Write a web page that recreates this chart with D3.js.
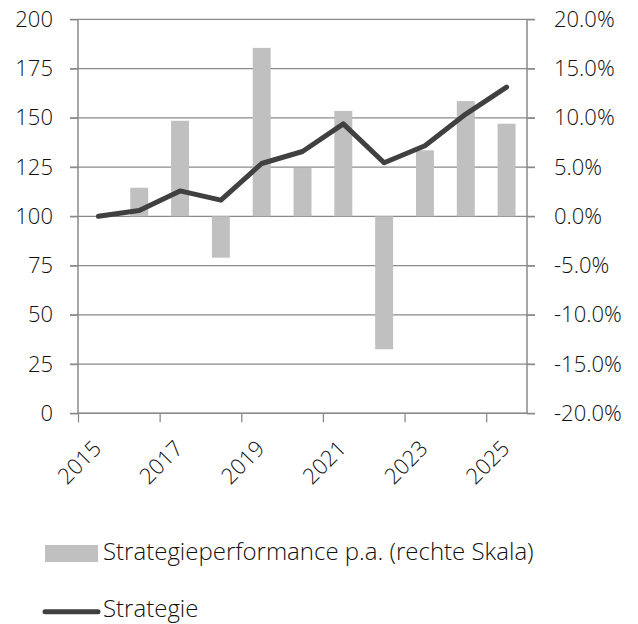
<!DOCTYPE html>
<html>
<head>
<meta charset="utf-8">
<script src="https://cdn.jsdelivr.net/npm/d3@7"></script>
<style>
  body { margin: 0; background: #fff; }
  svg text { font-family: "Open Sans", "Noto Sans", sans-serif; font-weight: 300; fill: #111; }
</style>
</head>
<body>
<script>
// chart data
var years = [2015, 2016, 2017, 2018, 2019, 2020, 2021, 2022, 2023, 2024, 2025];
var strategie = [100, 102.9, 112.9, 108.2, 126.8, 132.9, 146.9, 127.2, 135.8, 151.9, 165.6];
var perfYears = [2016, 2017, 2018, 2019, 2020, 2021, 2022, 2023, 2024, 2025];
var perf = [0.029, 0.097, -0.042, 0.171, 0.049, 0.107, -0.135, 0.067, 0.117, 0.094];
var leftTicks = [0, 25, 50, 75, 100, 125, 150, 175, 200];
var rightTicks = [-0.2, -0.15, -0.1, -0.05, 0, 0.05, 0.1, 0.15, 0.2];
var xLabels = [2015, 2017, 2019, 2021, 2023, 2025];

var width = 638, height = 624;
var plotL = 78, plotR = 527, plotT = 19.3, plotB = 413.3;

var svg = d3.select("body").append("svg")
  .attr("width", width)
  .attr("height", height);

var x = d3.scaleBand()
  .domain(years)
  .range([plotL, plotR])
  .paddingInner(0.56)
  .paddingOuter(0.28);

// year boundaries for the tick marks
var xEdge = d3.scaleLinear().domain([2015, 2026]).range([plotL, plotR]);

var yL = d3.scaleLinear().domain([0, 200]).range([plotB, plotT]);
var yR = d3.scaleLinear().domain([-0.2, 0.2]).range([plotB, plotT]);

// plain hyphen as minus sign, like the original
var pct = d3.formatLocale({decimal: ".", thousands: ",", grouping: [3], currency: ["", ""], minus: "-"}).format(".1%");

var axisColor = "#8a8a8a";

// gridlines
svg.append("g").selectAll("line")
  .data(leftTicks)
  .enter().append("line")
  .attr("x1", plotL - 8).attr("x2", plotR + 8)
  .attr("y1", function(d) { return yL(d); })
  .attr("y2", function(d) { return yL(d); })
  .style("stroke", axisColor)
  .style("stroke-width", 1.3);

// left axis
var gL = svg.append("g")
  .attr("transform", "translate(" + plotL + ",0)")
  .call(d3.axisLeft(yL).tickValues(leftTicks).tickSize(8).tickPadding(17));
// right axis
var gR = svg.append("g")
  .attr("transform", "translate(" + plotR + ",0)")
  .call(d3.axisRight(yR).tickValues(rightTicks).tickSize(8).tickPadding(19).tickFormat(pct));
// bottom axis
var gB = svg.append("g")
  .attr("transform", "translate(0," + plotB + ")")
  .call(d3.axisBottom(xEdge).tickValues(xLabels).tickSize(9).tickFormat(d3.format("d")));

[gL, gR, gB].forEach(function(g) {
  g.select(".domain").style("stroke", axisColor).style("stroke-width", 1.5);
  g.selectAll(".tick line").style("stroke", axisColor).style("stroke-width", 1.3);
  g.selectAll("text").style("font-size", "22px").style("fill", "#111").attr("font-family", null);
});
gL.select(".domain").attr("d", "M0," + plotB + "V" + plotT);
gR.select(".domain").attr("d", "M0," + plotB + "V" + plotT);
gB.select(".domain").attr("d", "M" + plotL + ",0H" + plotR);

gB.selectAll(".tick text")
  .attr("y", 0).attr("dy", 0)
  .attr("text-anchor", "middle")
  .attr("dominant-baseline", "central")
  .attr("transform", "translate(0,48) rotate(-45)");

// bars (right scale)
svg.append("g").selectAll("rect")
  .data(perf)
  .enter().append("rect")
  .attr("x", function(d, i) { return x(perfYears[i]); })
  .attr("width", x.bandwidth())
  .attr("y", function(d) { return yR(Math.max(0, d)); })
  .attr("height", function(d) { return Math.abs(yR(d) - yR(0)); })
  .style("fill", "#c0c0c0");

// line (left scale)
var line = d3.line()
  .x(function(d, i) { return x(years[i]) + x.bandwidth() / 2; })
  .y(function(d) { return yL(d); });

svg.append("path")
  .datum(strategie)
  .attr("d", line)
  .style("fill", "none")
  .style("stroke", "#404040")
  .style("stroke-width", 5)
  .style("stroke-linejoin", "round")
  .style("stroke-linecap", "round");

// legend
var legend = svg.append("g");
legend.append("rect")
  .attr("x", 45).attr("y", 545).attr("width", 53).attr("height", 17)
  .style("fill", "#c0c0c0");
legend.append("text")
  .attr("x", 103).attr("y", 560)
  .style("font-size", "24px")
  .text("Strategieperformance p.a. (rechte Skala)");
legend.append("line")
  .attr("x1", 45).attr("x2", 98).attr("y1", 611.7).attr("y2", 611.7)
  .style("stroke", "#404040")
  .style("stroke-width", 5)
  .style("stroke-linecap", "round");
legend.append("text")
  .attr("x", 103).attr("y", 617)
  .style("font-size", "24px")
  .text("Strategie");
</script>
</body>
</html>
